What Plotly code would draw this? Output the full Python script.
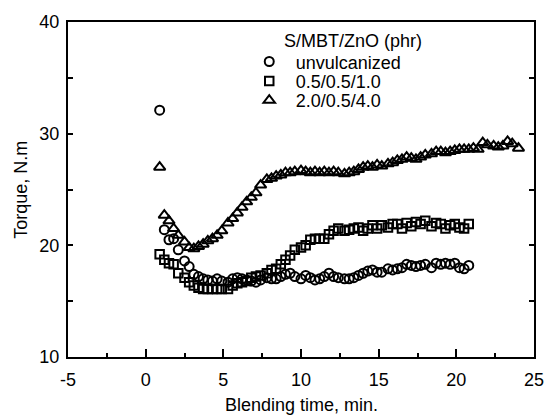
import plotly.graph_objects as go

# --- data ---
time_unvulc = [0.9, 1.2, 1.5, 1.8, 2.1, 2.5, 2.8, 3.1, 3.4, 3.7, 4.0, 4.3, 4.6, 4.9, 5.3, 5.6, 5.9, 6.2, 6.5, 6.8,
               7.1, 7.4, 7.8, 8.1, 8.4, 8.7, 9.0, 9.3, 9.6, 10.0, 10.3, 10.6, 10.9, 11.2, 11.5, 11.8, 12.1, 12.4,
               12.8, 13.1, 13.4, 13.7, 14.0, 14.3, 14.6, 14.9, 15.2, 15.6, 15.9, 16.2, 16.5, 16.8, 17.1, 17.4,
               17.7, 18.0, 18.4, 18.7, 19.0, 19.3, 19.6, 19.9, 20.2, 20.5, 20.8]
torque_unvulc = [32.1, 21.4, 20.5, 20.6, 19.6, 18.6, 18.1, 17.4, 17.2, 17.0, 16.9, 16.8, 17.0, 16.8, 16.7, 17.0,
                 17.1, 17.0, 16.9, 16.8, 16.7, 16.9, 17.1, 17.0, 17.0, 17.2, 17.4, 17.5, 17.2, 17.0, 17.3, 17.1,
                 16.9, 17.0, 17.2, 17.5, 17.2, 17.1, 17.0, 17.0, 17.1, 17.3, 17.5, 17.7, 17.8, 17.6, 17.6, 17.9,
                 17.8, 17.9, 18.0, 18.3, 18.2, 18.1, 18.2, 18.3, 18.0, 18.4, 18.3, 18.4, 18.3, 18.4, 18.0, 17.9,
                 18.2]

time_low = [0.9, 1.2, 1.5, 1.8, 2.1, 2.5, 2.8, 3.1, 3.4, 3.7, 4.0, 4.3, 4.6, 4.9, 5.3, 5.6, 5.9, 6.2, 6.5, 6.8,
            7.1, 7.4, 7.8, 8.1, 8.4, 8.7, 9.0, 9.3, 9.6, 10.0, 10.3, 10.6, 10.9, 11.2, 11.5, 11.8, 12.1, 12.4,
            12.8, 13.1, 13.4, 13.7, 14.0, 14.3, 14.6, 14.9, 15.2, 15.6, 15.9, 16.2, 16.5, 16.8, 17.1, 17.4,
            17.7, 18.0, 18.4, 18.7, 19.0, 19.3, 19.6, 19.9, 20.2, 20.5, 20.8]
torque_low = [19.2, 18.7, 18.4, 18.3, 17.5, 17.1, 16.7, 16.4, 16.2, 16.1, 16.1, 16.1, 16.1, 16.1, 16.1, 16.4,
              16.6, 16.7, 16.8, 17.1, 17.2, 17.3, 17.5, 17.8, 17.9, 18.3, 18.7, 19.1, 19.6, 19.8, 20.0, 20.5,
              20.6, 20.6, 20.6, 21.0, 21.3, 21.5, 21.3, 21.4, 21.5, 21.6, 21.3, 21.5, 21.8, 21.5, 21.8, 21.6,
              21.9, 21.9, 21.5, 22.0, 21.7, 22.1, 21.9, 22.2, 21.7, 22.0, 21.9, 21.5, 21.8, 21.9, 21.6, 21.5,
              21.9]

time_high = [0.9, 1.2, 1.5, 1.8, 2.1, 2.5, 2.8, 3.1, 3.4, 3.7, 4.0, 4.3, 4.6, 4.9, 5.3, 5.6, 5.9, 6.2, 6.5, 6.8,
             7.1, 7.4, 7.8, 8.1, 8.4, 8.7, 9.0, 9.3, 9.6, 10.0, 10.3, 10.6, 10.9, 11.2, 11.5, 11.8, 12.1, 12.4,
             12.8, 13.1, 13.4, 13.7, 14.0, 14.3, 14.6, 14.9, 15.2, 15.6, 15.9, 16.2, 16.5, 16.8, 17.1, 17.4,
             17.7, 18.0, 18.4, 18.7, 19.0, 19.3, 19.6, 19.9, 20.2, 20.5, 20.8, 21.1, 21.4, 21.7, 22.0, 22.4,
             22.7, 23.0, 23.3, 23.6, 24.0]
torque_high = [27.0, 22.7, 22.2, 21.5, 20.9, 20.3, 19.8, 19.7, 19.9, 20.1, 20.4, 20.6, 20.9, 21.3, 22.0, 22.4,
               22.9, 23.4, 23.9, 24.3, 24.7, 25.4, 25.9, 26.0, 26.2, 26.3, 26.5, 26.5, 26.6, 26.7, 26.6, 26.5,
               26.6, 26.5, 26.6, 26.5, 26.6, 26.5, 26.4, 26.5, 26.6, 26.8, 27.0, 27.1, 27.0, 27.2, 27.1, 27.3,
               27.4, 27.6, 27.7, 27.9, 27.8, 27.7, 27.9, 28.1, 28.2, 28.4, 28.4, 28.3, 28.4, 28.5, 28.6, 28.6,
               28.6, 28.7, 28.6, 29.2, 29.0, 28.9, 28.8, 28.9, 29.3, 29.1, 28.7]

series_names = ["unvulcanized", "0.5/0.5/1.0", "2.0/0.5/4.0"]
legend_title = "S/MBT/ZnO (phr)"
x_tick_vals = [-5, 0, 5, 10, 15, 20, 25]
x_tick_text = ["-5", "0", "5", "10", "15", "20", "25"]
y_tick_vals = [10, 15, 20, 25, 30, 35, 40]
y_tick_text = ["10", "", "20", "", "30", "", "40"]

FONT = "Liberation Sans, Arial, Helvetica, sans-serif"
FS = 18

fig = go.Figure()
fig.add_trace(go.Scatter(x=time_unvulc, y=torque_unvulc, mode="markers", name=series_names[0], legend="legend",
                         marker=dict(symbol="circle-open", size=9, color="black", line=dict(width=2, color="black"))))
fig.add_trace(go.Scatter(x=time_low, y=torque_low, mode="markers", name=series_names[1], legend="legend2",
                         marker=dict(symbol="square-open", size=8.5, color="black", line=dict(width=2, color="black"))))
fig.add_trace(go.Scatter(x=time_high, y=torque_high, mode="markers", name=series_names[2], legend="legend3",
                         marker=dict(symbol="triangle-up-open", size=10, color="black", line=dict(width=2, color="black"))))


def leg(ypx):
    return dict(x=0.375, y=1 - (ypx - 15) / 342.5, xanchor="left", yanchor="middle",
                bgcolor="rgba(0,0,0,0)", font=dict(size=FS, color="black", family=FONT), itemwidth=43)


fig.update_layout(
    width=556, height=417,
    margin=dict(l=68, r=12, t=15, b=60),
    plot_bgcolor="white", paper_bgcolor="white",
    font=dict(family=FONT, size=FS, color="black"),
    showlegend=True,
    legend=leg(55.7), legend2=leg(75.7), legend3=leg(95.3),
    xaxis=dict(range=[-5, 25], tickvals=x_tick_vals, ticktext=x_tick_text,
               ticks="inside", ticklen=8, tickwidth=1.5, tickcolor="black",
               minor=dict(dtick=2.5, ticks="inside", ticklen=4, tickwidth=1.5, tickcolor="black"),
               showline=True, linewidth=2, linecolor="black", mirror=True,
               showgrid=False, zeroline=False, tickfont=dict(size=FS, color="black"), ticklabelstandoff=5),
    yaxis=dict(range=[10, 40], tickvals=y_tick_vals, ticktext=y_tick_text,
               ticks="inside", ticklen=5, tickwidth=1.5, tickcolor="black",
               showline=True, linewidth=2, linecolor="black", mirror="ticks",
               showgrid=False, zeroline=False, tickfont=dict(size=FS, color="black"), ticklabelstandoff=3),
    annotations=[
        dict(text=legend_title, xref="paper", yref="paper", x=0.4597, y=1 - (34.3 - 15) / 342.5,
             xanchor="left", yanchor="middle", showarrow=False, font=dict(size=FS, color="black")),
        dict(text="Torque, N.m", xref="paper", yref="paper", x=-0.1026, y=0.5,
             xanchor="center", yanchor="middle", textangle=-90, showarrow=False, font=dict(size=FS, color="black")),
        dict(text="Blending time, min.", xref="paper", yref="paper", x=0.5, y=-0.1436,
             xanchor="center", yanchor="middle", showarrow=False, font=dict(size=FS, color="black")),
    ],
)

fig.write_html("out.html")
